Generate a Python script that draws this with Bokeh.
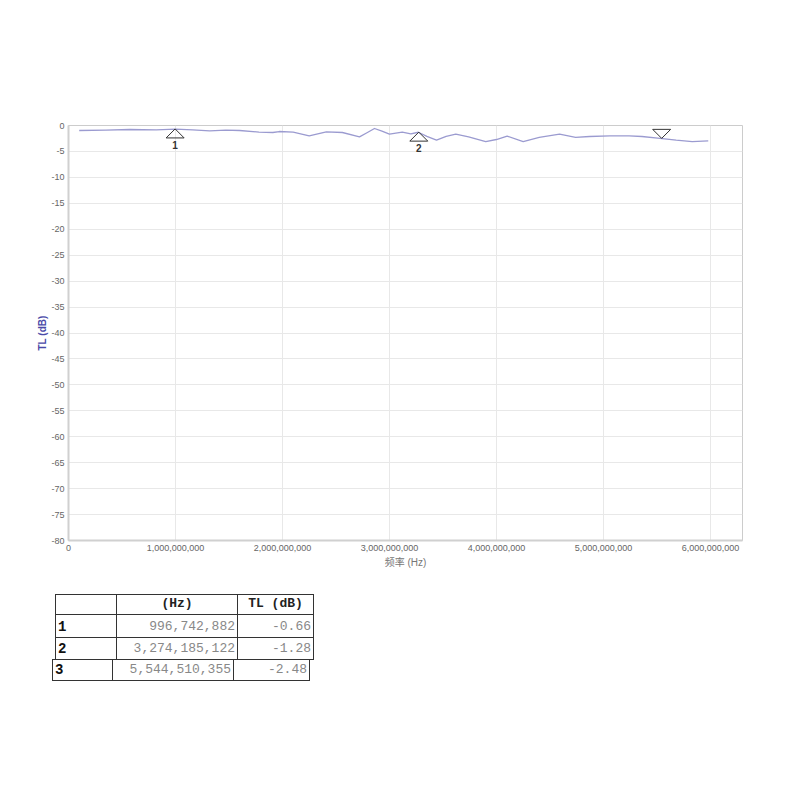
import numpy as np
from bokeh.plotting import figure
from bokeh.models import Range1d, FixedTicker, NumeralTickFormatter, Div, ColumnDataSource
from bokeh.layouts import column
from bokeh.core.properties import value
from bokeh.embed import file_html
from bokeh.resources import INLINE

# ---- data ----
freq_ghz = [0.10, 0.35, 0.57, 0.82, 1.00, 1.16, 1.32, 1.47, 1.60, 1.78, 1.91, 1.97,
            2.10, 2.25, 2.41, 2.56, 2.72, 2.79, 2.86, 2.93, 3.00, 3.12, 3.20, 3.27,
            3.35, 3.44, 3.53, 3.62, 3.74, 3.90, 4.00, 4.10, 4.25, 4.40, 4.59, 4.74,
            4.87, 5.06, 5.24, 5.36, 5.53, 5.68, 5.83, 5.98]
tl_db = [-0.96, -0.90, -0.77, -0.83, -0.68, -0.83, -1.03, -0.90, -0.96, -1.28, -1.35, -1.16,
         -1.29, -2.00, -1.22, -1.35, -2.19, -1.40, -0.58, -1.10, -1.67, -1.29, -1.60, -1.30,
         -2.10, -2.83, -2.10, -1.67, -2.19, -3.10, -2.70, -2.05, -3.10, -2.30, -1.67, -2.30,
         -2.12, -2.00, -2.00, -2.12, -2.48, -2.83, -3.10, -2.96]

marker_ids = ["1", "2", "3"]
marker_freq = [996742882, 3274185122, 5544510355]
marker_tl = [-0.66, -1.28, -2.48]
marker_dir = ["up", "up", "down"]
marker_show_label = [True, True, False]

x_ticks = [0, 1e9, 2e9, 3e9, 4e9, 5e9, 6e9]
y_ticks = list(range(-80, 1, 5))

x_label = "频率 (Hz)"
y_label = "TL (dB)"

# ---- layout constants ----
X_END = 6.3e9
Y_START, Y_END = -80, 0
FW, FH = 674, 415

p = figure(frame_width=FW, frame_height=FH, output_backend="svg", toolbar_location=None,
           x_range=Range1d(0, X_END), y_range=Range1d(Y_START, Y_END),
           min_border_left=68, min_border_top=125, min_border_right=40, min_border_bottom=40,
           background_fill_color="white", border_fill_color="white")
p.outline_line_color = "#cccccc"
p.outline_line_width = 1

x = np.array(freq_ghz) * 1e9
p.line(x, tl_db, line_color="#9b9bd0", line_width=1.3, line_join="round")

# markers as triangles (pixel size converted to data units)
hz_px = X_END / FW
db_px = (Y_END - Y_START) / FH
hw, th = 9 * hz_px, 9 * db_px
xs, ys = [], []
for f, v, d in zip(marker_freq, marker_tl, marker_dir):
    xs.append([f - hw, f, f + hw])
    if d == "up":
        ys.append([v - th, v, v - th])
    else:
        ys.append([v + th, v, v + th])
p.patches(xs, ys, fill_color="white", fill_alpha=0.0, line_color="#333333", line_width=1)

lab_src = ColumnDataSource(dict(
    x=[f for f, s in zip(marker_freq, marker_show_label) if s],
    y=[v for v, s in zip(marker_tl, marker_show_label) if s],
    t=[m for m, s in zip(marker_ids, marker_show_label) if s]))
p.text(x="x", y="y", text="t", source=lab_src, y_offset=12, text_align="center",
       text_baseline="top", text_font=value("Liberation Sans"), text_font_size="10px",
       text_font_style="bold", text_color="#333333")

# axes
for ax in (p.xaxis[0], p.yaxis[0]):
    ax.axis_line_color = "#d0d0d0"
    ax.axis_line_width = 2
    ax.major_tick_line_color = None
    ax.minor_tick_line_color = None
    ax.major_tick_in = 0
    ax.major_tick_out = 0
    ax.major_label_text_font = "Liberation Sans"
    ax.major_label_text_font_size = "9px"
    ax.major_label_text_color = "#666666"
    ax.major_label_standoff = 4

p.xaxis.ticker = FixedTicker(ticks=x_ticks)
p.yaxis.ticker = FixedTicker(ticks=y_ticks)
p.xaxis.formatter = NumeralTickFormatter(format="0,0")
p.yaxis.formatter = NumeralTickFormatter(format="0")
p.xaxis.axis_label = x_label
p.xaxis.axis_label_text_font = "'Liberation Sans', 'Noto Sans CJK SC'"
p.xaxis.axis_label_text_font_size = "10px"
p.xaxis.axis_label_text_font_style = "normal"
p.xaxis.axis_label_text_color = "#777777"
p.xaxis.axis_label_standoff = 3
p.yaxis.axis_label = y_label
p.yaxis.axis_label_text_font = "Liberation Sans"
p.yaxis.axis_label_text_font_size = "10px"
p.yaxis.axis_label_text_font_style = "bold"
p.yaxis.axis_label_text_color = "#4a4aa8"
p.yaxis.axis_label_standoff = 0

p.xgrid.ticker = FixedTicker(ticks=x_ticks)
p.ygrid.ticker = FixedTicker(ticks=y_ticks)
p.grid.grid_line_color = "#e8e8e8"
p.grid.grid_line_width = 1

# ---- marker table ----
tbl_head = ["", "(Hz)", "TL (dB)"]
bd = "border:1.5px solid #333;"
base = "font-family:Liberation Mono,Courier New,monospace;font-size:13px;"
def fmt_row(i):
    return (f"<td style='{bd}text-align:left;vertical-align:bottom;font-weight:bold;color:#111;font-size:14px;padding:0 2px;'>{marker_ids[i]}</td>"
            f"<td style='{bd}text-align:right;vertical-align:bottom;color:#888;padding:0 2px;'>{marker_freq[i]:,}</td>"
            f"<td style='{bd}text-align:right;vertical-align:bottom;color:#888;padding:0 2px;'>{marker_tl[i]:.2f}</td>")

head = "".join(f"<td style='{bd}text-align:center;vertical-align:bottom;font-weight:bold;color:#222;padding:0 2px;'>{h}</td>" for h in tbl_head)
html = (f"<div style='{base}'>"
        f"<table style='border-collapse:collapse;table-layout:fixed;width:258px;{base}'>"
        "<colgroup><col style='width:61px'><col style='width:121px'><col style='width:76px'></colgroup>"
        f"<tr style='height:19px'>{head}</tr>"
        f"<tr style='height:23px'>{fmt_row(0)}</tr>"
        f"<tr style='height:22px'>{fmt_row(1)}</tr>"
        "</table>"
        f"<table style='border-collapse:collapse;table-layout:fixed;width:257px;margin-left:-3px;margin-top:-1px;{base}'>"
        "<colgroup><col style='width:60px'><col style='width:121px'><col style='width:76px'></colgroup>"
        f"<tr style='height:21px'>{fmt_row(2)}</tr>"
        "</table></div>")
div = Div(text=html, width=300, height=100, margin=(14, 0, 0, 55))

layout = column(p, div)
open("out.html", "w").write(file_html(layout, INLINE))
